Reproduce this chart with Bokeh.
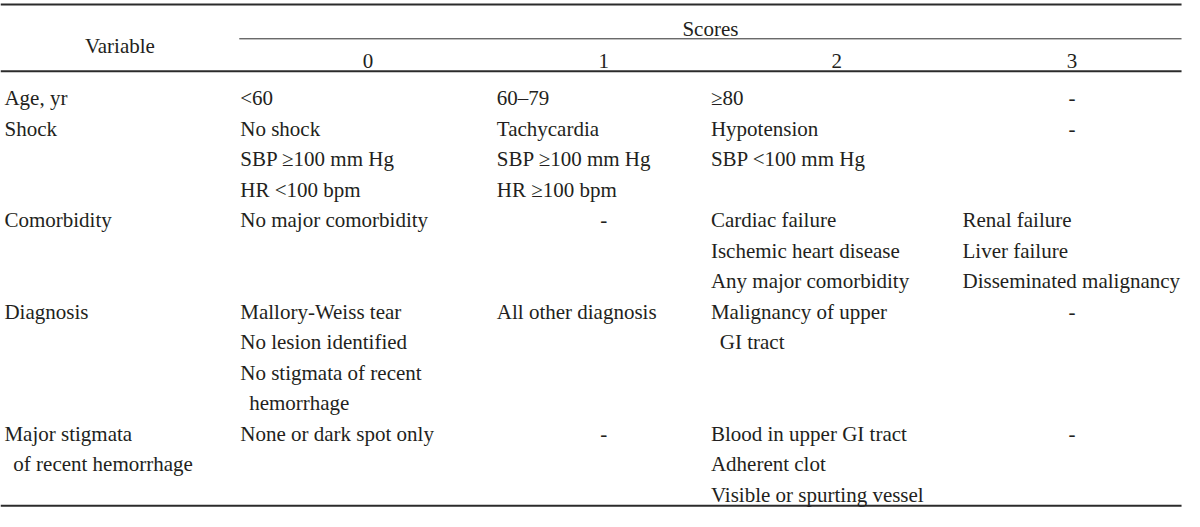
from bokeh.plotting import figure
from bokeh.models import Range1d, ColumnDataSource
from bokeh.core.properties import value
from bokeh.embed import file_html
from bokeh.resources import INLINE

# ---------------- data ----------------
header_variable = "Variable"
header_group = "Scores"
score_labels = ["0", "1", "2", "3"]

variables = [
    ["Age, yr"],
    ["Shock"],
    ["Comorbidity"],
    ["Diagnosis"],
    ["Major stigmata", " of recent hemorrhage"],
]
score0 = [
    ["<60"],
    ["No shock", "SBP \u2265100 mm Hg", "HR <100 bpm"],
    ["No major comorbidity"],
    ["Mallory-Weiss tear", "No lesion identified", "No stigmata of recent", " hemorrhage"],
    ["None or dark spot only"],
]
score1 = [
    ["60\u201379"],
    ["Tachycardia", "SBP \u2265100 mm Hg", "HR \u2265100 bpm"],
    ["-"],
    ["All other diagnosis"],
    ["-"],
]
score2 = [
    ["\u226580"],
    ["Hypotension", "SBP <100 mm Hg"],
    ["Cardiac failure", "Ischemic heart disease", "Any major comorbidity"],
    ["Malignancy of upper", " GI tract"],
    ["Blood in upper GI tract", "Adherent clot", "Visible or spurting vessel"],
]
score3 = [
    ["-"],
    ["-"],
    ["Renal failure", "Liver failure", "Disseminated malignancy"],
    ["-"],
    ["-"],
]

# ---------------- layout ----------------
W, H = 1184, 511
col_edges = [0, 242, 503, 720, 975, 1197]   # table column boundaries
text_pad = [4, 1, 0, 0, 0]                 # left padding inside each column
indent = 9
first_base = 101
line_h = 31.45
FONT = value("Liberation Serif")
FS = value("21px")
COLOR = "#231f20"
RULE = "#2b2b2b"

p = figure(width=W, height=H, output_backend="svg", toolbar_location=None,
           x_range=Range1d(0, 1200), y_range=Range1d(527, 0),
           min_border=0, min_border_left=0, min_border_right=0,
           min_border_top=0, min_border_bottom=0)
p.axis.visible = False
p.grid.visible = False
p.outline_line_color = None
p.background_fill_color = "white"
p.border_fill_color = "white"

# rules
p.segment(x0=[col_edges[0], col_edges[0], col_edges[0]],
          y0=[4, 73, 521],
          x1=[col_edges[-1]] * 3,
          y1=[4, 73, 521], line_color=RULE, line_width=2)
p.segment(x0=[col_edges[1]], y0=[39.5], x1=[col_edges[-1]], y1=[39.5],
          line_color=RULE, line_width=1)

left = dict(x=[], y=[], text=[])
center = dict(x=[], y=[], text=[])

def add_center(x, y, t):
    center["x"].append(x); center["y"].append(y); center["text"].append(t)

def add_left(x, y, t):
    left["x"].append(x); left["y"].append(y); left["text"].append(t)

# headers
add_center((col_edges[0] + col_edges[1]) / 2, 47, header_variable)
add_center((col_edges[1] + col_edges[-1]) / 2, 29, header_group)
for i, s in enumerate(score_labels):
    add_center((col_edges[i + 1] + col_edges[i + 2]) / 2, 62, s)

# body
columns = [variables, score0, score1, score2, score3]
line_idx = 0
for r in range(len(variables)):
    n = max(len(col[r]) for col in columns)
    for c, col in enumerate(columns):
        for k, t in enumerate(col[r]):
            y = first_base + (line_idx + k) * line_h
            if t == "-":
                add_center((col_edges[c] + col_edges[c + 1]) / 2, y, t)
            elif t.startswith(" "):
                add_left(col_edges[c] + text_pad[c] + indent, y, t.strip())
            else:
                add_left(col_edges[c] + text_pad[c], y, t)
    line_idx += n

p.text(x="x", y="y", text="text", source=ColumnDataSource(left),
       text_font=FONT, text_font_size=FS, text_color=COLOR,
       text_align="left", text_baseline="alphabetic")
p.text(x="x", y="y", text="text", source=ColumnDataSource(center),
       text_font=FONT, text_font_size=FS, text_color=COLOR,
       text_align="center", text_baseline="alphabetic")

open("out.html", "w").write(file_html(p, INLINE))
